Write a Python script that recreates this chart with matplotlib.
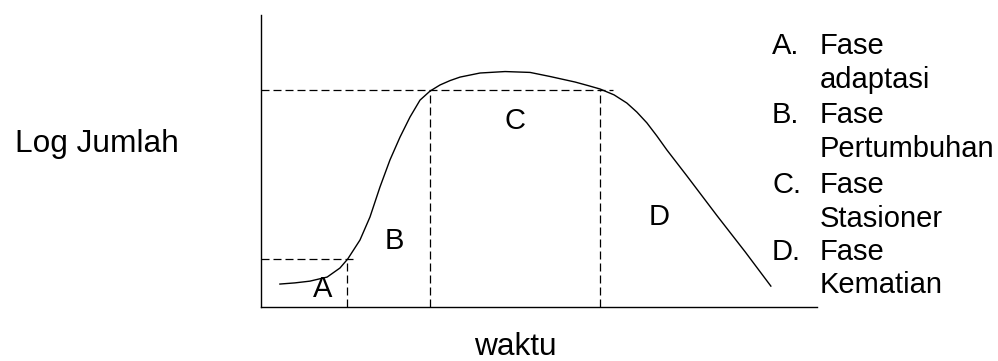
import matplotlib
matplotlib.use("Agg")
import matplotlib.pyplot as plt

plt.rcParams['font.family'] = ['Liberation Sans', 'DejaVu Sans']

# growth curve (time, log count), axes 0..10
time = [0.34, 0.61, 0.88, 1.19, 1.42, 1.56, 1.78, 1.96, 2.14, 2.32, 2.50,
        2.68, 2.86, 3.04, 3.22, 3.40, 3.58, 3.94, 4.39, 4.84, 5.20, 5.65,
        5.88, 6.10, 6.35, 6.58, 6.76, 6.94, 7.12, 7.30, 7.66, 8.20, 8.71,
        9.17]
log_count = [0.77, 0.81, 0.87, 1.01, 1.32, 1.63, 2.28, 3.07, 4.10, 5.03, 5.81,
             6.50, 7.08, 7.39, 7.60, 7.75, 7.87, 8.01, 8.06, 8.03, 7.89, 7.70,
             7.58, 7.46, 7.26, 6.98, 6.67, 6.30, 5.85, 5.37, 4.48, 3.12, 1.87,
             0.70]

# phase boundaries
end_a = 1.55
level_a = 1.63
start_c = 3.04
end_c = 6.10
level_c = 7.43

phase_letters = ['A', 'B', 'C', 'D']
phase_pos = [(1.10, 0.60), (2.39, 2.25), (4.57, 6.36), (7.16, 3.07)]

legend_keys = ['A.', 'B.', 'C.', 'D.']
legend_names = [['Fase', 'adaptasi'], ['Fase', 'Pertumbuhan'],
                ['Fase', 'Stasioner'], ['Fase', 'Kematian']]

W, H = 998, 361
fig = plt.figure(figsize=(W / 100, H / 100), dpi=100)
ax = fig.add_axes([261 / W, (H - 306.5) / H, (817 - 261) / W, (306.5 - 15) / H])
ax.set_xlim(0, 10)
ax.set_ylim(0, 10)
ax.set_xticks([])
ax.set_yticks([])
for s in ['top', 'right']:
    ax.spines[s].set_visible(False)
for s in ['left', 'bottom']:
    ax.spines[s].set_linewidth(1.0)

ax.plot(time, log_count, color='black', lw=1.0, solid_joinstyle='round')

dash = dict(color='black', lw=0.9, linestyle=(0, (6.4, 3.2)))
ax.plot([0, end_a + 0.14], [level_a, level_a], **dash)
ax.plot([end_a, end_a], [0, level_a], **dash)
ax.plot([0, end_c + 0.23], [level_c, level_c], **dash)
ax.plot([start_c, start_c], [0, level_c], **dash)
ax.plot([end_c, end_c], [0, level_c], **dash)

for letter, (x, y) in zip(phase_letters, phase_pos):
    ax.text(x, y, letter, fontsize=21, ha='center', va='center')

fig.text(15 / W, 1 - 152 / H, 'Log Jumlah', fontsize=22.8, ha='left', va='baseline')
fig.text(515 / W, 1 - 355 / H, 'waktu', fontsize=22.8, ha='center', va='baseline')

baselines = [54, 88, 123, 157, 193, 227, 260, 293]
for i, (key, name) in enumerate(zip(legend_keys, legend_names)):
    y1 = 1 - baselines[2 * i] / H
    y2 = 1 - baselines[2 * i + 1] / H
    fig.text(772 / W, y1, key, fontsize=21, va='baseline')
    fig.text(820 / W, y1, name[0], fontsize=21, va='baseline')
    fig.text(820 / W, y2, name[1], fontsize=21, va='baseline')

fig.savefig('out.png', dpi=100)
